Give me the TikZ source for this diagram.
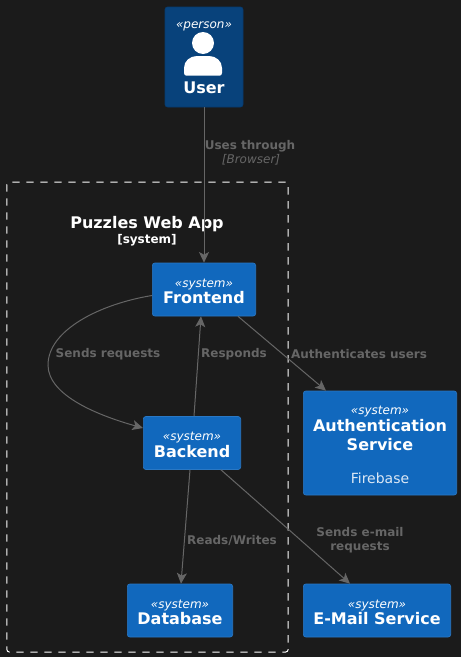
\documentclass[tikz,border=0pt]{standalone}
\usepackage{fontspec}
\setmainfont{DejaVu Sans}
\usetikzlibrary{arrows.meta}
\definecolor{pagebg}{HTML}{1B1B1B}
\definecolor{personblue}{HTML}{08427B}
\definecolor{personedge}{HTML}{073B6F}
\definecolor{systemblue}{HTML}{1168BD}
\definecolor{systemedge}{HTML}{2A78C4}
\definecolor{linkgray}{HTML}{666666}
\definecolor{firetext}{HTML}{DCE8F5}
\newcommand{\stereotxt}[1]{{\fontsize{9}{11}\selectfont\itshape\rule{0pt}{9pt}«#1»}}
\newcommand{\titletxt}[1]{{\fontsize{12}{15}\selectfont\bfseries #1}}
\tikzset{
	box/.style={rectangle, rounded corners=1.9pt, inner sep=0pt, align=center, text=white},
	sysbox/.style={box, fill=systemblue, draw=systemedge, line width=0.5pt},
	link/.style={draw=linkgray, line width=0.75pt, -{Stealth[length=8pt, width=7.5pt, inset=2pt]}},
	linklabel/.style={text=linkgray, font=\fontsize{9}{10.5}\selectfont\bfseries, align=center, inner sep=0pt},
	linktech/.style={text=linkgray, font=\fontsize{9}{10.5}\selectfont\itshape, inner sep=0pt}
}
\begin{document}
\begin{tikzpicture}[x=0.75pt, y=-0.75pt]
	\fill[pagebg] (0, 0) rectangle (461, 657);
	\useasboundingbox (0, 0) rectangle (461, 657);

	\node[rectangle, rounded corners=1.9pt, draw=white, dash pattern=on 5.5pt off 5pt, line width=0.75pt, minimum width=211pt, minimum height=352.5pt, inner sep=0pt] (webapp) at (147.5, 417) {};
	\node[text=white, inner sep=0pt] (webapptitle) at (147, 224) {\titletxt{Puzzles Web App}};
	\node[text=white, inner sep=0pt] (webapptype) at (147, 240) {\fontsize{9}{11}\selectfont\bfseries [system]};

	\node[box, fill=personblue, draw=personedge, line width=0.5pt, minimum width=58.5pt, minimum height=75pt] (user) at (204, 57) {};
	\node[text=white, inner sep=0pt] (userstereo) at (204, 24) {\stereotxt{person}};
	\node[text=white, inner sep=0pt] (username) at (204, 88) {\titletxt{User}};
	\fill[white] (203, 43) circle (11);
	\fill[white] (184, 73) -- (184, 68) .. controls (184, 61) and (190, 56) .. (197, 56) -- (209, 56) .. controls (216, 56) and (222, 61) .. (222, 68) -- (222, 73) .. controls (222, 74.5) and (221, 75.5) .. (220, 75.5) -- (186, 75.5) .. controls (185, 75.5) and (184, 74.5) .. (184, 73) -- cycle;

	\node[sysbox, minimum width=77.5pt, minimum height=39.75pt] (frontend) at (204, 289.5) {\stereotxt{system}\\[0.5pt]\titletxt{Frontend}};
	\node[sysbox, minimum width=73pt, minimum height=39.75pt] (backend) at (192, 443) {\stereotxt{system}\\[0.5pt]\titletxt{Backend}};
	\node[sysbox, minimum width=79pt, minimum height=39.75pt] (database) at (180, 610.5) {\stereotxt{system}\\[0.5pt]\titletxt{Database}};
	\node[sysbox, minimum width=115pt, minimum height=78pt] (auth) at (380, 443) {\stereotxt{system}\\[1pt]\titletxt{Authentication}\\[2pt]\titletxt{Service}\\[13pt]{\fontsize{10.5}{13}\selectfont\color{firetext} Firebase}};
	\node[sysbox, minimum width=110.5pt, minimum height=39.75pt] (email) at (377, 610.5) {\stereotxt{system}\\[0.5pt]\titletxt{E-Mail Service}};

	\draw[link] (user.south) -- (frontend.north);
	\draw[link] ([shift={(0, 6)}]frontend.west) .. controls (100, 304) and (48, 330) .. (48, 365) .. controls (48, 396) and (100, 416) .. ([shift={(0, -15)}]backend.west);
	\draw[link] ([shift={(2, 0)}]backend.north) -- ([shift={(-3, 0)}]frontend.south);
	\draw[link] ([shift={(34, 0)}]frontend.south) -- ([shift={(-54, 0)}]auth.north);
	\draw[link] ([shift={(-2, 0)}]backend.south) -- ([shift={(1, 0)}]database.north);
	\draw[link] ([shift={(29, 0)}]backend.south) -- ([shift={(-27, 0)}]email.north);

	\node[linklabel] (usesthrough) at (250, 146) {Uses through};
	\node[linktech] (browser) at (251, 160) {[Browser]};
	\node[linklabel] (sendsrequests) at (108, 354) {Sends requests};
	\node[linklabel] (responds) at (234, 354) {Responds};
	\node[linklabel] (authenticates) at (359, 354) {Authenticates users};
	\node[linklabel] (readswrites) at (232, 540) {Reads/Writes};
	\node[linklabel] (sendsemail) at (360, 540) {Sends e-mail\\requests};
\end{tikzpicture}
\end{document}
